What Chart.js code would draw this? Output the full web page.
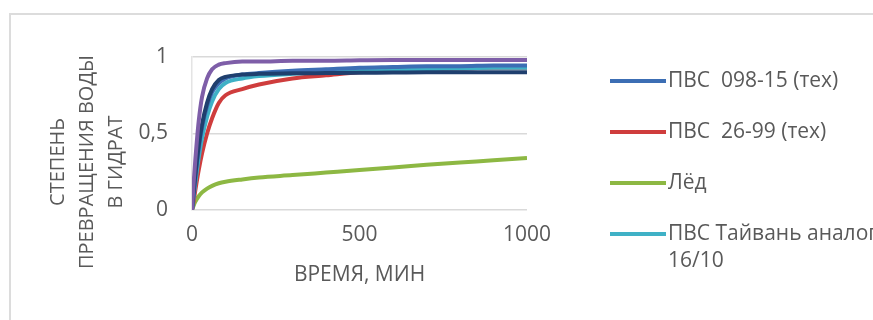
<!DOCTYPE html>
<html>
<head>
<meta charset="utf-8">
<script src="https://cdn.jsdelivr.net/npm/chart.js@4/dist/chart.umd.min.js"></script>
<style>
  html, body { margin: 0; padding: 0; background: #fff; overflow: hidden; }
  #wrap { position: relative; width: 873px; height: 320px; overflow: hidden; }
  #frame {
    position: absolute; left: 9px; top: 13px; width: 900px; height: 340px;
    border: 2px solid #dcdcdc; box-sizing: border-box;
  }
  #chart { position: absolute; left: 0; top: 0; }
</style>
</head>
<body>
<div id="wrap">
  <div id="frame"></div>
  <canvas id="chart" width="873" height="320"></canvas>
</div>
<script>
/* ===============================
   DATA
================================= */
const times = [0, 5, 10, 20, 30, 45, 60, 80, 100, 150, 200, 300, 400, 500, 600, 700, 800, 900, 1000];

const pvs09815 = [0, 0.11, 0.21, 0.40, 0.54, 0.68, 0.77, 0.83, 0.86, 0.885, 0.895, 0.91, 0.92, 0.93, 0.935, 0.94, 0.94, 0.945, 0.945];
const pvs2699  = [0, 0.06, 0.13, 0.26, 0.37, 0.50, 0.60, 0.70, 0.75, 0.79, 0.82, 0.86, 0.88, 0.90, 0.91, 0.92, 0.925, 0.93, 0.93];
const ice      = [0, 0.03, 0.055, 0.09, 0.115, 0.14, 0.158, 0.175, 0.185, 0.20, 0.212, 0.228, 0.245, 0.262, 0.278, 0.295, 0.31, 0.325, 0.34];
const taiwan   = [0, 0.09, 0.18, 0.34, 0.47, 0.61, 0.71, 0.79, 0.83, 0.86, 0.875, 0.89, 0.90, 0.91, 0.915, 0.92, 0.925, 0.93, 0.93];
const purple   = [0, 0.18, 0.33, 0.58, 0.74, 0.86, 0.92, 0.95, 0.96, 0.97, 0.97, 0.975, 0.975, 0.978, 0.98, 0.98, 0.98, 0.98, 0.98];
const navy     = [0, 0.12, 0.23, 0.42, 0.56, 0.70, 0.79, 0.85, 0.87, 0.885, 0.89, 0.893, 0.895, 0.897, 0.898, 0.90, 0.90, 0.90, 0.90];

const seriesLabels = ["ПВС  098-15 (тех)", "ПВС  26-99 (тех)", "Лёд", ["ПВС Тайвань аналог", "16/10"], "", ""];
const seriesColors = ["#3c6eb4", "#cf3d3d", "#8db843", "#3fb1c6", "#7e5ea8", "#1f3f6e"];
const seriesData = [pvs09815, pvs2699, ice, taiwan, purple, navy];
const drawOrder = [3, 5, 6, 4, 1, 2];

const xTicks = [0, 500, 1000];
const yTicks = [0, 0.5, 1];
const xTitle = "ВРЕМЯ, МИН";
const yTitle = ["СТЕПЕНЬ", "ПРЕВРАЩЕНИЯ ВОДЫ", "В ГИДРАТ"];

const TEXT = "#595959";
const FONT = "'Open Sans', 'Noto Sans', sans-serif";
const FS = 21;

/* ===============================
   PLUGINS
================================= */
const yTitlePlugin = {
  id: "yTitle",
  afterDraw(chart) {
    const ctx = chart.ctx;
    ctx.save();
    ctx.fillStyle = TEXT;
    ctx.font = "20px " + FONT;
    ctx.textAlign = "center";
    ctx.textBaseline = "middle";
    yTitle.forEach((line, i) => {
      ctx.save();
      ctx.translate(58 + i * 29, 162);
      ctx.rotate(-Math.PI / 2);
      ctx.fillText(line, 0, 0);
      ctx.restore();
    });
    ctx.restore();
  }
};

const legendPlugin = {
  id: "sideLegend",
  afterDraw(chart) {
    const ctx = chart.ctx;
    ctx.save();
    ctx.font = FS + "px " + FONT;
    ctx.textBaseline = "middle";
    ctx.textAlign = "left";
    let y = 81;
    for (let i = 0; i < 4; i++) {
      ctx.strokeStyle = seriesColors[i];
      ctx.lineWidth = 4;
      ctx.beginPath();
      ctx.moveTo(610, y);
      ctx.lineTo(666, y);
      ctx.stroke();
      ctx.fillStyle = TEXT;
      const lines = Array.isArray(seriesLabels[i]) ? seriesLabels[i] : [seriesLabels[i]];
      lines.forEach((t, j) => ctx.fillText(t, 668, y + j * 27));
      y += 51;
    }
    ctx.restore();
  }
};

/* ===============================
   CHART
================================= */
const datasets = seriesData.map((vals, i) => ({
  label: Array.isArray(seriesLabels[i]) ? seriesLabels[i].join(" ") : seriesLabels[i],
  data: vals.map((v, k) => ({ x: times[k], y: v })),
  borderColor: seriesColors[i],
  backgroundColor: seriesColors[i],
  borderWidth: 4,
  pointRadius: 0,
  cubicInterpolationMode: "monotone",
  order: drawOrder[i],
  fill: false
}));

new Chart(document.getElementById("chart"), {
  type: "line",
  data: { datasets },
  options: {
    responsive: false,
    animation: false,
    layout: { padding: { left: 0, top: 57, right: 346, bottom: 0 } },
    plugins: { legend: { display: false }, tooltip: { enabled: false } },
    scales: {
      x: {
        type: "linear",
        min: 0, max: 1000,
        afterBuildTicks: s => { s.ticks = xTicks.map(v => ({ value: v })); },
        afterFit: s => { s.height = 110; },
        grid: { display: false, drawTicks: false },
        border: { display: false },
        ticks: { color: TEXT, font: { size: FS, family: FONT }, padding: 12, maxRotation: 0, callback: v => String(v) },
        title: { display: true, text: xTitle, color: TEXT, font: { size: FS, family: FONT }, padding: { top: 0, bottom: 32 } }
      },
      y: {
        min: 0, max: 1,
        afterBuildTicks: s => { s.ticks = yTicks.map(v => ({ value: v })); },
        afterFit: s => { s.width = 192; },
        grid: { color: "#d9d9d9", lineWidth: 1.5, drawTicks: false },
        border: { display: true, color: "#e4e4e4", width: 1.5 },
        ticks: {
          color: TEXT, font: { size: FS, family: FONT }, padding: 24,
          callback: v => String(v).replace(".", ",")
        }
      }
    }
  },
  plugins: [yTitlePlugin, legendPlugin]
});
</script>
</body>
</html>
